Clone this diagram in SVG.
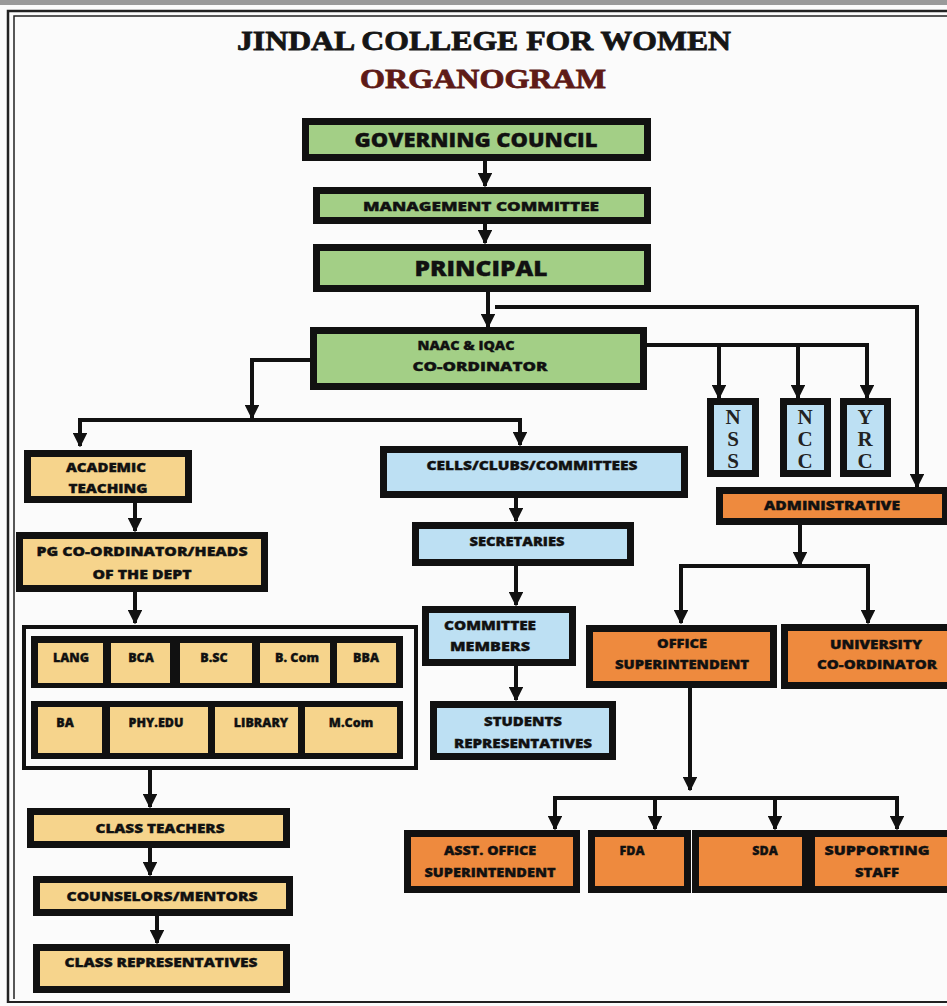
<svg xmlns="http://www.w3.org/2000/svg" width="947" height="1006" viewBox="0 0 947 1006">
<style>
.bx{stroke:#111;stroke-width:7}
.g{fill:#a3cf86}
.y{fill:#f6d48c}
.b{fill:#bde0f3}
.o{fill:#ee8a3e}
.t{font-family:"Open Sans","Liberation Sans",sans-serif;font-weight:800;fill:#111;stroke:#111;stroke-width:0.35;text-anchor:middle}
.s{font-size:12.5px}
.v{font-family:"Liberation Serif",serif;font-weight:bold;font-size:21px;fill:#222;text-anchor:middle}
.ln{fill:none;stroke:#111;stroke-width:4}
.ttl{font-family:"Liberation Serif",serif;font-weight:bold;text-anchor:middle;stroke-width:0.8}
</style>
<defs>
<marker id="ah" viewBox="0 0 10 10" refX="9" refY="5" markerWidth="3.6" markerHeight="3.6" orient="auto" markerUnits="strokeWidth">
<path d="M0,0 L10,5 L0,10 Z" fill="#111"/>
</marker>
</defs>
<rect x="0" y="0" width="947" height="1006" fill="#fbfbfb"/>
<rect x="0" y="0" width="947" height="5" fill="#9a9a9a"/>
<g id="frame" fill="none" stroke="#222">
<path d="M8,1003 L8,11 L947,11" stroke-width="2.5"/>
<path d="M14,999 L14,16 L947,16" stroke-width="1.5"/>
<path d="M8,1002 L947,1002" stroke-width="2"/>
</g>
<g id="title">
<text class="ttl" x="484" y="50" font-size="28" textLength="494" lengthAdjust="spacingAndGlyphs" fill="#151515" stroke="#151515">JINDAL COLLEGE FOR WOMEN</text>
<text class="ttl" x="483" y="88" font-size="27" textLength="246" lengthAdjust="spacingAndGlyphs" fill="#5e1a16" stroke="#5e1a16">ORGANOGRAM</text>
</g>
<g id="connectors">
<path class="ln" d="M485,161 V186" marker-end="url(#ah)"/>
<path class="ln" d="M485,224 V243" marker-end="url(#ah)"/>
<path class="ln" d="M488,292 V327" marker-end="url(#ah)"/>
<path class="ln" d="M495,307 H917 V487" marker-end="url(#ah)"/>
<path class="ln" d="M647,345 H867 V398" marker-end="url(#ah)"/>
<path class="ln" d="M719,345 V398" marker-end="url(#ah)"/>
<path class="ln" d="M798,345 V398" marker-end="url(#ah)"/>
<path class="ln" d="M310,360 H252 V418" marker-end="url(#ah)"/>
<path class="ln" d="M80,445 V420 H520 V445" marker-end="url(#ah)"/>
<path class="ln" d="M80,421 V446" marker-end="url(#ah)"/>
<path class="ln" d="M135,503 V531" marker-end="url(#ah)"/>
<path class="ln" d="M135,592 V623" marker-end="url(#ah)"/>
<path class="ln" d="M150,770 V807" marker-end="url(#ah)"/>
<path class="ln" d="M150,848 V875" marker-end="url(#ah)"/>
<path class="ln" d="M157,916 V943" marker-end="url(#ah)"/>
<path class="ln" d="M516,498 V521" marker-end="url(#ah)"/>
<path class="ln" d="M516,566 V605" marker-end="url(#ah)"/>
<path class="ln" d="M516,666 V700" marker-end="url(#ah)"/>
<path class="ln" d="M800,525 V565" marker-end="url(#ah)"/>
<path class="ln" d="M681,623 V566 H868 V623" marker-end="url(#ah)"/>
<path class="ln" d="M681,567 V623" marker-end="url(#ah)"/>
<path class="ln" d="M690,688 V790" marker-end="url(#ah)"/>
<path class="ln" d="M555,829 V798 H897 V829" marker-end="url(#ah)"/>
<path class="ln" d="M555,799 V829" marker-end="url(#ah)"/>
<path class="ln" d="M655,798 V829" marker-end="url(#ah)"/>
<path class="ln" d="M775,798 V829" marker-end="url(#ah)"/>
</g>
<g id="governing-council">
<rect class="bx g" x="305.5" y="121.5" width="342" height="36"/>
<text class="t" x="476" y="147" font-size="20" textLength="243" lengthAdjust="spacingAndGlyphs">GOVERNING COUNCIL</text>
</g>
<g id="management-committee">
<rect class="bx g" x="316.5" y="190.5" width="331" height="30"/>
<text class="t" x="481" y="211" font-size="12.5" textLength="236" lengthAdjust="spacingAndGlyphs">MANAGEMENT COMMITTEE</text>
</g>
<g id="principal">
<rect class="bx g" x="316.5" y="247.5" width="331" height="41"/>
<text class="t" x="481" y="276" font-size="21" textLength="133" lengthAdjust="spacingAndGlyphs">PRINCIPAL</text>
</g>
<g id="naac-iqac">
<rect class="bx g" x="313.5" y="330.5" width="330" height="56"/>
<text class="t s" x="466" y="350" textLength="97" lengthAdjust="spacingAndGlyphs">NAAC &amp; IQAC</text>
<text class="t s" x="480" y="371" textLength="135" lengthAdjust="spacingAndGlyphs">CO-ORDINATOR</text>
</g>
<g id="nss">
<rect class="bx b" x="710.5" y="401.5" width="45" height="72"/>
<text class="v" x="733" y="424">N</text>
<text class="v" x="733" y="446">S</text>
<text class="v" x="733" y="468">S</text>
</g>
<g id="ncc">
<rect class="bx b" x="783.5" y="401.5" width="44" height="72"/>
<text class="v" x="805" y="424">N</text>
<text class="v" x="805" y="446">C</text>
<text class="v" x="805" y="468">C</text>
</g>
<g id="yrc">
<rect class="bx b" x="843.5" y="401.5" width="44" height="72"/>
<text class="v" x="865" y="424">Y</text>
<text class="v" x="865" y="446">R</text>
<text class="v" x="865" y="468">C</text>
</g>
<g id="administrative">
<rect class="bx o" x="719.5" y="490.5" width="226" height="31"/>
<text class="t s" x="832" y="510" textLength="136" lengthAdjust="spacingAndGlyphs">ADMINISTRATIVE</text>
</g>
<g id="academic-teaching">
<rect class="bx y" x="27.5" y="453.5" width="161" height="46"/>
<text class="t s" x="106" y="472" textLength="80" lengthAdjust="spacingAndGlyphs">ACADEMIC</text>
<text class="t s" x="108" y="493" textLength="79" lengthAdjust="spacingAndGlyphs">TEACHING</text>
</g>
<g id="cells-clubs">
<rect class="bx b" x="383.5" y="449.5" width="301" height="45"/>
<text class="t s" x="532" y="470" textLength="211" lengthAdjust="spacingAndGlyphs">CELLS/CLUBS/COMMITTEES</text>
</g>
<g id="pg-coordinator">
<rect class="bx y" x="19.5" y="535.5" width="245" height="53"/>
<text class="t s" x="142" y="556" textLength="211" lengthAdjust="spacingAndGlyphs">PG CO-ORDINATOR/HEADS</text>
<text class="t s" x="142" y="579" textLength="99" lengthAdjust="spacingAndGlyphs">OF THE DEPT</text>
</g>
<g id="departments">
<rect x="24" y="627" width="392" height="141" fill="none" stroke="#111" stroke-width="4"/>
<rect x="31" y="636" width="372" height="52" fill="#111"/>
<rect x="31" y="701" width="372" height="58" fill="#111"/>
<g id="lang"><rect class="y" x="38" y="643" width="65" height="40"/><text class="t s" x="71" y="662">LANG</text></g>
<g id="bca"><rect class="y" x="111" y="643" width="59" height="40"/><text class="t s" x="141" y="662">BCA</text></g>
<g id="bsc"><rect class="y" x="180" y="643" width="72" height="40"/><text class="t s" x="214" y="662">B.SC</text></g>
<g id="bcom"><rect class="y" x="260" y="643" width="70" height="40"/><text class="t s" x="297" y="662">B. Com</text></g>
<g id="bba"><rect class="y" x="337" y="643" width="59" height="40"/><text class="t s" x="366" y="662">BBA</text></g>
<g id="ba"><rect class="y" x="38" y="707" width="64" height="46"/><text class="t s" x="65" y="727">BA</text></g>
<g id="phyedu"><rect class="y" x="110" y="707" width="98" height="46"/><text class="t s" x="156" y="727">PHY.EDU</text></g>
<g id="library"><rect class="y" x="215" y="707" width="83" height="46"/><text class="t s" x="261" y="727">LIBRARY</text></g>
<g id="mcom"><rect class="y" x="305" y="707" width="92" height="46"/><text class="t s" x="351" y="727">M.Com</text></g>
</g>
<g id="class-teachers">
<rect class="bx y" x="30.5" y="811.5" width="256" height="33"/>
<text class="t s" x="160" y="833" textLength="129" lengthAdjust="spacingAndGlyphs">CLASS TEACHERS</text>
</g>
<g id="counselors">
<rect class="bx y" x="36.5" y="879.5" width="253" height="33"/>
<text class="t s" x="162" y="901" textLength="191" lengthAdjust="spacingAndGlyphs">COUNSELORS/MENTORS</text>
</g>
<g id="class-representatives">
<rect class="bx y" x="36.5" y="947.5" width="250" height="42"/>
<text class="t s" x="161" y="967" textLength="193" lengthAdjust="spacingAndGlyphs">CLASS REPRESENTATIVES</text>
</g>
<g id="secretaries">
<rect class="bx b" x="415.5" y="525.5" width="215" height="37"/>
<text class="t s" x="517" y="546" textLength="95" lengthAdjust="spacingAndGlyphs">SECRETARIES</text>
</g>
<g id="committee-members">
<rect class="bx b" x="425.5" y="609.5" width="147" height="53"/>
<text class="t s" x="490" y="630" textLength="92" lengthAdjust="spacingAndGlyphs">COMMITTEE</text>
<text class="t s" x="490" y="651" textLength="80" lengthAdjust="spacingAndGlyphs">MEMBERS</text>
</g>
<g id="students-representatives">
<rect class="bx b" x="433.5" y="704.5" width="179" height="52"/>
<text class="t s" x="523" y="726" textLength="78" lengthAdjust="spacingAndGlyphs">STUDENTS</text>
<text class="t s" x="523" y="748" textLength="138" lengthAdjust="spacingAndGlyphs">REPRESENTATIVES</text>
</g>
<g id="office-superintendent">
<rect class="bx o" x="589.5" y="628.5" width="184" height="56"/>
<text class="t s" x="682" y="648" textLength="50" lengthAdjust="spacingAndGlyphs">OFFICE</text>
<text class="t s" x="682" y="669" textLength="134" lengthAdjust="spacingAndGlyphs">SUPERINTENDENT</text>
</g>
<g id="university-coordinator">
<rect class="bx o" x="784.5" y="627.5" width="166" height="58"/>
<text class="t s" x="876" y="649" textLength="92" lengthAdjust="spacingAndGlyphs">UNIVERSITY</text>
<text class="t s" x="877" y="669" textLength="120" lengthAdjust="spacingAndGlyphs">CO-ORDINATOR</text>
</g>
<g id="asst-office-superintendent">
<rect class="bx o" x="407.5" y="833.5" width="169" height="56"/>
<text class="t s" x="490" y="855" textLength="92" lengthAdjust="spacingAndGlyphs">ASST. OFFICE</text>
<text class="t s" x="490" y="877" textLength="131" lengthAdjust="spacingAndGlyphs">SUPERINTENDENT</text>
</g>
<g id="fda">
<rect class="bx o" x="591.5" y="833.5" width="96" height="56"/>
<text class="t s" x="632" y="855">FDA</text>
</g>
<g id="sda">
<rect class="bx o" x="695.5" y="833.5" width="110" height="56"/>
<text class="t s" x="765" y="855">SDA</text>
</g>
<g id="supporting-staff">
<rect class="bx o" x="811.5" y="833.5" width="140" height="56"/>
<text class="t s" x="877" y="855" textLength="105" lengthAdjust="spacingAndGlyphs">SUPPORTING</text>
<text class="t s" x="877" y="877" textLength="44" lengthAdjust="spacingAndGlyphs">STAFF</text>
</g>
</svg>
